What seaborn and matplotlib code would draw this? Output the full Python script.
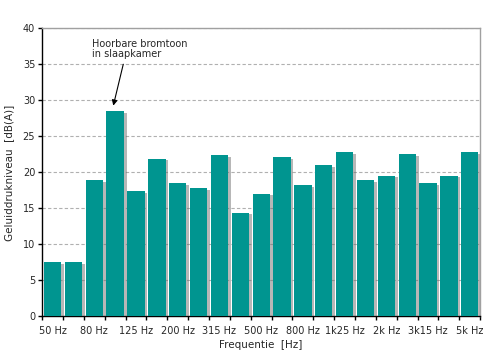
import matplotlib
matplotlib.use("Agg")
import matplotlib.pyplot as plt
import matplotlib.patheffects as pe
import seaborn as sns
import pandas as pd

# tertsbanden
bands = ["50 Hz", "63 Hz", "80 Hz", "100 Hz", "125 Hz", "160 Hz", "200 Hz",
         "250 Hz", "315 Hz", "400 Hz", "500 Hz", "630 Hz", "800 Hz", "1k Hz",
         "1k25 Hz", "1k6 Hz", "2k Hz", "2k5 Hz", "3k15 Hz", "4k Hz", "5k Hz"]
levels = [7.5, 7.5, 18.9, 28.5, 17.4, 21.9, 18.5, 17.8, 22.4, 14.4, 17.0,
          22.1, 18.2, 21.0, 22.8, 18.9, 19.5, 22.5, 18.5, 19.5, 22.8]
y_ticks = [0, 5, 10, 15, 20, 25, 30, 35, 40]

df = pd.DataFrame({"band": bands, "level": levels})

sns.set_style("white")
plt.rcParams["font.family"] = ["DejaVu Sans"]

fig = plt.figure(figsize=(4.9, 3.6), dpi=100)
ax = fig.add_axes([0.086, 0.121, 0.894, 0.8])

sns.barplot(data=df, x="band", y="level", color="#009590", saturation=1,
            width=0.83, linewidth=0, edgecolor="none", ax=ax, zorder=3)
for p in ax.patches:
    p.set_path_effects([pe.SimplePatchShadow(offset=(2, -1), shadow_rgbFace="#707070", alpha=0.5),
                        pe.Normal()])

ax.set_xlim(-0.5, len(bands) - 0.5)
ax.set_ylim(0, 40)
ax.set_yticks(y_ticks)
ax.yaxis.grid(True, linestyle=(0, (3, 2)), color="#b0b0b0", linewidth=0.8, zorder=0)
ax.set_axisbelow(True)

# labels om de andere band, tickstreepjes tussen de balken
ax.set_xticks(range(0, len(bands), 2))
ax.set_xticklabels(bands[::2])
ax.set_xticks([i - 0.5 for i in range(len(bands) + 1)], minor=True)
ax.tick_params(axis="x", which="major", length=0, labelsize=7, pad=7)
ax.tick_params(axis="x", which="minor", bottom=True, length=3, width=1, color="black", direction="out")
ax.tick_params(axis="y", left=True, length=3, width=1, color="black", direction="out", labelsize=7, pad=2)

for side in ["top", "right"]:
    ax.spines[side].set_color("#a0a0a0")
    ax.spines[side].set_linewidth(1)
for side in ["left", "bottom"]:
    ax.spines[side].set_color("black")
    ax.spines[side].set_linewidth(1)

ax.set_xlabel("Frequentie  [Hz]", fontsize=7.5, labelpad=3)
ax.set_ylabel("Geluiddrukniveau  [dB(A)]", fontsize=7.5, labelpad=6)

ax.text(1.88, 38.6, "Hoorbare bromtoon\nin slaapkamer", fontsize=7, ha="left", va="top",
        linespacing=1.1)
ax.annotate("", xy=(2.88, 28.9), xytext=(3.42, 35.4),
            arrowprops=dict(arrowstyle="-|>", color="black", lw=0.8, mutation_scale=8))

fig.savefig("out.png", dpi=100)
